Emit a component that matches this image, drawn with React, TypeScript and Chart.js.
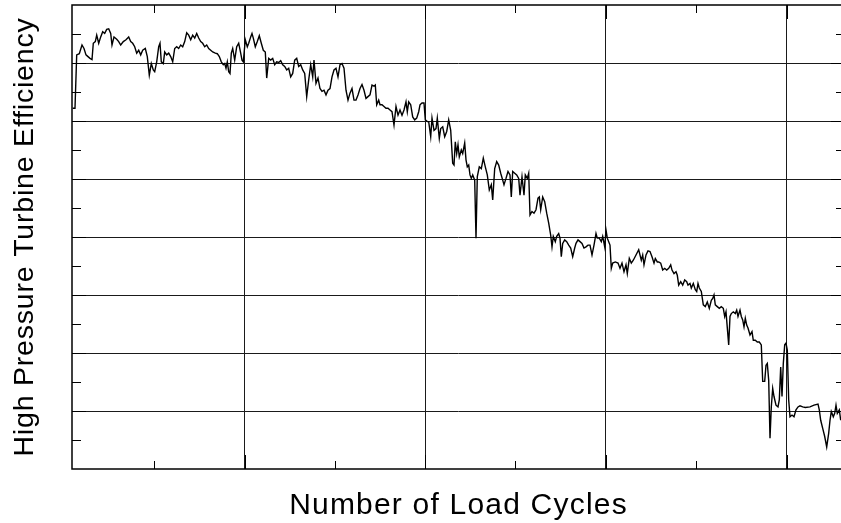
import React, { useEffect, useRef } from 'react';
import { Chart, registerables } from 'chart.js';

Chart.register(...registerables);

// Load cycles (x)
const cycles = [
  7, 30, 47, 73, 100, 120, 140, 160, 180, 200, 213, 233, 247, 267, 287, 307, 327, 347, 367, 387,
  400, 420, 447, 467, 487, 513, 540, 567, 587, 607, 627, 647, 667, 687, 707, 733, 753, 773, 793, 813,
  827, 847, 867, 880, 893, 913, 927, 947, 967, 987, 1007, 1027, 1047, 1067, 1087, 1107, 1127, 1147, 1167, 1187,
  1207, 1227, 1247, 1267, 1287, 1307, 1327, 1347, 1367, 1387, 1407, 1433, 1453, 1473, 1493, 1513, 1527, 1540, 1553, 1567,
  1580, 1593, 1607, 1627, 1647, 1667, 1687, 1700, 1713, 1733, 1753, 1767, 1787, 1800, 1813, 1833, 1853, 1873, 1893, 1913,
  1933, 1947, 1967, 1987, 2007, 2027, 2047, 2067, 2087, 2107, 2127, 2147, 2167, 2187, 2207, 2227, 2247, 2267, 2287, 2307,
  2327, 2347, 2367, 2387, 2407, 2420, 2440, 2460, 2480, 2500, 2520, 2540, 2560, 2580, 2600, 2620, 2640, 2660, 2680, 2700,
  2720, 2740, 2760, 2780, 2800, 2820, 2840, 2860, 2880, 2900, 2920, 2940, 2960, 2980, 3000, 3020, 3033, 3047, 3067, 3080,
  3100, 3120, 3140, 3160, 3180, 3200, 3220, 3240, 3260, 3280, 3300, 3320, 3340, 3353, 3367, 3387, 3407, 3427, 3447, 3467,
  3480, 3500, 3520, 3533, 3553, 3567, 3587, 3600, 3620, 3640, 3653, 3673, 3687, 3707, 3727, 3747, 3767, 3787, 3807, 3820,
  3833, 3847, 3860, 3873, 3893, 3907, 3927, 3940, 3953, 3967, 3980, 3993, 4007, 4027, 4040, 4053, 4073, 4093, 4113, 4133,
  4153, 4173, 4193, 4207, 4227, 4247, 4267, 4287, 4307, 4320, 4340, 4360, 4380, 4393, 4407, 4427, 4447, 4467, 4480, 4500,
  4520, 4533, 4553, 4567, 4580, 4600, 4620, 4640, 4660, 4673, 4687, 4707, 4727, 4747, 4767, 4787, 4800, 4813, 4833, 4847,
  4867, 4880, 4893, 4907, 4927, 4947, 4967, 4987, 5007, 5027, 5040, 5060, 5080, 5100, 5120, 5140, 5160, 5180, 5200, 5220,
  5240, 5253, 5273, 5293, 5307, 5327, 5340, 5353, 5367, 5380, 5393, 5407, 5433, 5460, 5480, 5500, 5520, 5540, 5553, 5573,
  5593, 5613, 5640, 5667, 5693, 5707, 5720, 5740, 5760, 5780, 5800, 5820, 5833, 5853, 5867, 5887, 5907, 5927, 5947, 5967,
  5987, 6000, 6020, 6040, 6053, 6067, 6087, 6107, 6127, 6147, 6160, 6180, 6193, 6213, 6233, 6247, 6260, 6273, 6293, 6313,
  6333, 6353, 6373, 6393, 6407, 6420, 6433, 6453, 6473, 6493, 6513, 6527, 6540, 6567, 6580, 6593, 6613, 6633, 6647, 6660,
  6680, 6693, 6707, 6720, 6733, 6747, 6760, 6780, 6800, 6813, 6833, 6853, 6873, 6893, 6907, 6927, 6940, 6953, 6967, 6980,
  6993, 7007, 7020, 7040, 7060, 7073, 7087, 7100, 7113, 7127, 7140, 7153, 7167, 7180, 7200, 7220, 7240, 7260, 7280, 7307,
  7333, 7380, 7420, 7460, 7473, 7487, 7507, 7527, 7547, 7567, 7580, 7593, 7613, 7627, 7640, 7653, 7673, 7687,
];

// High pressure turbine efficiency (%)
const efficiency = [
  88.22, 88.22, 89.14, 89.16, 89.31, 89.25, 89.14, 89.11, 89.08, 89.06, 89.34, 89.37, 89.48, 89.34, 89.45, 89.54, 89.51, 89.58, 89.59, 89.51,
  89.31, 89.45, 89.41, 89.37, 89.31, 89.37, 89.40, 89.45, 89.37, 89.34, 89.28, 89.17, 89.22, 89.14, 89.22, 89.25, 89.11, 88.79, 88.99, 88.88,
  88.85, 89.02, 89.28, 89.34, 89.02, 88.99, 89.19, 89.14, 89.17, 89.11, 89.02, 89.25, 89.28, 89.25, 89.31, 89.28, 89.37, 89.52, 89.48, 89.40,
  89.48, 89.43, 89.51, 89.43, 89.37, 89.34, 89.28, 89.31, 89.25, 89.22, 89.19, 89.17, 89.16, 89.11, 89.02, 88.97, 88.99, 88.91, 89.02, 88.85,
  88.82, 89.17, 89.25, 89.05, 89.28, 89.34, 89.17, 89.05, 89.02, 89.40, 89.28, 89.34, 89.45, 89.51, 89.43, 89.28, 89.37, 89.47, 89.34, 89.22,
  89.19, 88.74, 89.08, 89.05, 89.08, 88.97, 89.02, 89.01, 89.04, 88.97, 88.94, 88.88, 88.91, 88.76, 88.82, 89.05, 89.08, 88.94, 88.97, 88.88,
  88.82, 88.42, 88.71, 88.97, 88.76, 89.05, 88.65, 88.74, 88.56, 88.51, 88.53, 88.45, 88.53, 88.56, 88.76, 88.88, 88.91, 88.76, 88.97, 88.99,
  88.91, 88.53, 88.36, 88.48, 88.56, 88.36, 88.36, 88.45, 88.56, 88.63, 88.53, 88.39, 88.42, 88.45, 88.62, 88.60, 88.62, 88.28, 88.36, 88.28,
  88.28, 88.25, 88.22, 88.22, 88.19, 88.16, 87.93, 88.25, 88.10, 88.19, 88.10, 88.19, 88.33, 88.16, 88.33, 88.28, 88.07, 88.02, 88.05, 88.16,
  88.28, 88.31, 88.31, 88.02, 87.99, 87.99, 87.73, 88.05, 87.84, 87.87, 88.05, 87.70, 87.87, 87.90, 87.73, 87.82, 88.02, 87.84, 87.27, 87.24,
  87.64, 87.44, 87.59, 87.38, 87.50, 87.44, 87.62, 87.33, 87.21, 87.24, 87.07, 87.01, 87.07, 86.98, 85.98, 87.04, 87.21, 87.18, 87.36, 87.21,
  87.07, 86.81, 86.90, 86.64, 87.18, 87.30, 87.24, 87.10, 86.98, 86.90, 87.01, 87.13, 87.07, 86.69, 87.13, 87.10, 87.07, 87.01, 86.72, 87.04,
  86.72, 87.07, 87.01, 87.10, 86.38, 86.44, 86.41, 86.47, 86.67, 86.69, 86.47, 86.69, 86.61, 86.41, 86.24, 86.03, 85.83, 86.01, 85.92, 86.01,
  86.06, 85.98, 85.66, 85.89, 85.95, 85.92, 85.86, 85.81, 85.66, 85.81, 85.89, 85.95, 85.92, 85.89, 85.81, 85.83, 85.86, 85.86, 85.69, 85.86,
  86.06, 85.98, 85.98, 85.92, 86.01, 85.83, 86.12, 85.98, 85.92, 85.86, 85.46, 85.55, 85.57, 85.55, 85.46, 85.55, 85.40, 85.52, 85.37, 85.63,
  85.55, 85.60, 85.69, 85.78, 85.60, 85.69, 85.52, 85.69, 85.76, 85.75, 85.66, 85.55, 85.63, 85.57, 85.57, 85.55, 85.43, 85.46, 85.43, 85.46,
  85.52, 85.43, 85.37, 85.40, 85.34, 85.17, 85.23, 85.17, 85.26, 85.23, 85.17, 85.20, 85.12, 85.20, 85.09, 85.06, 85.20, 85.12, 85.06, 84.83,
  84.80, 84.88, 84.77, 84.91, 84.94, 85.00, 84.83, 84.80, 84.77, 84.80, 84.77, 84.63, 84.71, 84.14, 84.63, 84.68, 84.71, 84.68, 84.74, 84.63,
  84.74, 84.63, 84.57, 84.45, 84.60, 84.48, 84.43, 84.31, 84.37, 84.22, 84.22, 84.19, 84.19, 84.14, 83.51, 83.51, 83.79, 83.82, 83.53, 82.53,
  83.07, 83.39, 83.25, 83.10, 83.07, 83.19, 83.76, 83.25, 83.82, 84.14, 84.17, 84.05, 83.19, 82.90, 82.93, 82.90, 83.02, 83.07, 83.09, 83.07,
  83.06, 83.07, 83.10, 83.12, 83.02, 82.84, 82.70, 82.56, 82.38, 82.62, 82.84, 82.99, 82.90, 82.96, 83.10, 82.96, 83.02, 82.84,
];

// Axis ranges and tick positions (no tick labels are shown)
const xRange = [0, 7730];
const xMajorTicks = [1725, 3530, 5337, 7145];
const xMinorTicks = [822, 2628, 4434, 6241];
const yRange = [82, 90];
const yMajorTicks = [83, 84, 85, 86, 87, 88, 89];
const yMinorTicks = [82.5, 83.5, 84.5, 85.5, 86.5, 87.5, 88.5, 89.5];

const xTitle = 'Number of Load Cycles';
const yTitle = 'High Pressure Turbine Efficiency';

const framePlugin = {
  id: 'frameTicks',
  afterDraw(chart: any) {
    const { ctx, chartArea: a, scales } = chart;
    const xs = scales.x;
    const ys = scales.y;
    ctx.save();
    ctx.strokeStyle = '#000';
    ctx.lineWidth = 1;
    ctx.beginPath();
    const vTicks = (vals: number[], len: number) => {
      for (const v of vals) {
        const p = Math.round(xs.getPixelForValue(v)) + 0.5;
        ctx.moveTo(p, a.bottom);
        ctx.lineTo(p, a.bottom - len);
        ctx.moveTo(p, a.top);
        ctx.lineTo(p, a.top + len);
      }
    };
    const hTicks = (vals: number[], len: number) => {
      for (const v of vals) {
        const p = Math.round(ys.getPixelForValue(v)) + 0.5;
        ctx.moveTo(a.left, p);
        ctx.lineTo(a.left + len, p);
        ctx.moveTo(a.right, p);
        ctx.lineTo(a.right - len, p);
      }
    };
    vTicks(xMajorTicks, 14);
    vTicks(xMinorTicks, 8);
    hTicks(yMajorTicks, 14);
    hTicks(yMinorTicks, 9);
    ctx.stroke();

    ctx.lineWidth = 1.5;
    ctx.strokeRect(a.left, a.top, a.right - a.left, a.bottom - a.top);

    ctx.fillStyle = '#000';
    ctx.textAlign = 'center';
    ctx.textBaseline = 'alphabetic';
    ctx.font = '30px "Liberation Sans", Arial, sans-serif';
    (ctx as any).letterSpacing = '1.2px';
    ctx.fillText(xTitle, (a.left + a.right) / 2, a.bottom + 45);

    ctx.font = '28.5px "Liberation Sans", Arial, sans-serif';
    (ctx as any).letterSpacing = '0.8px';
    ctx.translate(a.left - 39, (a.top + a.bottom) / 2);
    ctx.rotate(-Math.PI / 2);
    ctx.fillText(yTitle, 0, 0);
    ctx.restore();
  },
};

export default function App() {
  const ref = useRef<HTMLCanvasElement | null>(null);

  useEffect(() => {
    if (!ref.current) return;
    const points = cycles.map((c, i) => ({ x: c, y: efficiency[i] }));
    const chart = new Chart(ref.current, {
      type: 'line',
      data: {
        datasets: [
          {
            data: points,
            borderColor: '#000',
            borderWidth: 1.4,
            pointRadius: 0,
            tension: 0,
            fill: false,
          },
        ],
      },
      options: {
        animation: false,
        responsive: false,
        maintainAspectRatio: false,
        devicePixelRatio: 1,
        layout: { padding: { top: 5, right: 15, left: 0, bottom: 0 } },
        plugins: { legend: { display: false }, tooltip: { enabled: false }, title: { display: false } },
        scales: {
          x: {
            type: 'linear',
            min: xRange[0],
            max: xRange[1],
            afterBuildTicks: (s: any) => {
              s.ticks = [...xMajorTicks, ...xMinorTicks].sort((p, q) => p - q).map((v) => ({ value: v }));
            },
            afterFit: (s: any) => {
              s.height = 54;
            },
            ticks: { display: false },
            border: { display: false },
            grid: {
              drawTicks: false,
              lineWidth: 1,
              color: (c: any) => (c.tick && xMajorTicks.includes(c.tick.value) ? '#1a1a1a' : 'rgba(0,0,0,0)'),
            },
          },
          y: {
            type: 'linear',
            min: yRange[0],
            max: yRange[1],
            afterBuildTicks: (s: any) => {
              s.ticks = [...yMajorTicks, ...yMinorTicks].sort((p, q) => p - q).map((v) => ({ value: v }));
            },
            afterFit: (s: any) => {
              s.width = 72;
            },
            ticks: { display: false },
            border: { display: false },
            grid: {
              drawTicks: false,
              lineWidth: 1,
              color: (c: any) => (c.tick && yMajorTicks.includes(c.tick.value) ? '#1a1a1a' : 'rgba(0,0,0,0)'),
            },
          },
        },
      },
      plugins: [framePlugin],
    });
    return () => chart.destroy();
  }, []);

  return (
    <div
      style={{
        position: 'fixed',
        left: 0,
        top: 0,
        width: 841,
        height: 523,
        overflow: 'hidden',
        background: '#fff',
      }}
    >
      <canvas ref={ref} width={860} height={523} style={{ display: 'block' }} />
    </div>
  );
}
